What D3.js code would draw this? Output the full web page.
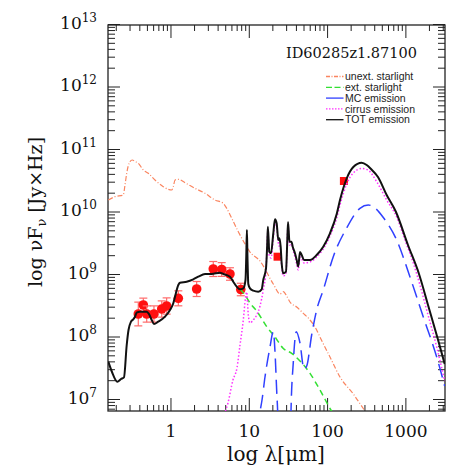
<!DOCTYPE html>
<html>
<head>
<meta charset="utf-8">
<script src="https://cdnjs.cloudflare.com/ajax/libs/d3/7.8.5/d3.min.js"></script>
<style>
  body { margin: 0; background: #fff; }
  svg { display: block; }
</style>
</head>
<body>
<svg id="chart" width="469" height="469"></svg>
<script>
// values are [log10 lambda (um), log10 nuFnu (Jy x Hz)]
const totEmission = [[-0.794,7.597],[-0.747,7.432],[-0.679,7.277],[-0.632,7.320],[-0.594,7.347],[-0.559,7.864],[-0.536,8.104],[-0.504,8.237],[-0.475,8.275],[-0.453,8.317],[-0.432,8.381],[-0.390,8.397],[-0.304,8.397],[-0.275,8.360],[-0.240,8.264],[-0.211,8.200],[-0.156,8.237],[-0.070,8.317],[-0.006,8.424],[0.036,8.531],[0.058,8.637],[0.100,8.824],[0.121,8.861],[0.207,8.877],[0.291,8.915],[0.355,8.957],[0.441,9.000],[0.526,9.000],[0.632,9.021],[0.674,9.000],[0.760,8.957],[0.802,8.877],[0.846,8.797],[0.888,8.755],[0.930,8.771],[0.958,8.904],[0.968,9.288],[0.976,9.704],[0.983,9.288],[0.994,8.840],[1.015,8.771],[1.058,8.733],[1.121,8.717],[1.165,8.755],[1.185,8.904],[1.220,9.091],[1.235,9.464],[1.244,9.757],[1.262,9.357],[1.284,9.331],[1.313,9.651],[1.335,9.875],[1.356,9.811],[1.377,9.544],[1.390,9.571],[1.407,9.437],[1.420,9.171],[1.441,9.011],[1.475,9.037],[1.490,9.464],[1.501,9.832],[1.520,9.517],[1.545,9.517],[1.561,9.437],[1.590,9.331],[1.612,9.224],[1.632,9.120],[1.654,9.352],[1.676,9.304],[1.705,9.224],[1.782,9.224],[1.867,9.304],[1.951,9.437],[2.037,9.651],[2.123,9.960],[2.165,10.184],[2.216,10.408],[2.250,10.528],[2.335,10.712],[2.442,10.781],[2.506,10.744],[2.561,10.680],[2.650,10.552],[2.761,10.264],[2.880,9.992],[3.033,9.464],[3.174,9.000],[3.289,8.504],[3.407,7.992],[3.502,7.560]];

const unextStarlight = [[-0.794,10.184],[-0.709,10.237],[-0.603,10.264],[-0.581,10.424],[-0.559,10.611],[-0.543,10.712],[-0.517,10.797],[-0.488,10.824],[-0.453,10.800],[-0.411,10.771],[-0.347,10.664],[-0.284,10.611],[-0.198,10.504],[-0.092,10.397],[-0.028,10.355],[0.015,10.344],[0.036,10.397],[0.058,10.504],[0.100,10.515],[0.185,10.461],[0.313,10.371],[0.441,10.291],[0.568,10.184],[0.674,10.131],[0.718,10.051],[0.782,9.891],[0.866,9.677],[0.952,9.480],[1.015,9.352],[1.143,9.208],[1.313,8.840],[1.399,8.680],[1.441,8.717],[1.484,8.648],[1.526,8.552],[1.612,8.472],[1.696,8.371],[1.782,8.264],[1.867,8.104],[1.909,7.992],[2.037,7.672],[2.165,7.352],[2.335,7.080],[2.484,6.808],[2.600,6.600]];

const extStarlight = [[0.888,8.755],[0.952,8.664],[1.015,8.536],[1.101,8.408],[1.229,8.157],[1.335,7.992],[1.441,7.808],[1.548,7.731],[1.654,7.608],[1.782,7.411],[1.909,7.144],[2.056,6.808],[2.165,6.600]];

const mcEmission = [[1.079,6.184],[1.143,6.792],[1.169,6.984],[1.207,7.352],[1.271,7.832],[1.313,8.077],[1.335,7.752],[1.356,7.144],[1.369,6.792],[1.379,6.344],[1.462,6.024],[1.533,6.344],[1.539,6.792],[1.568,7.576],[1.607,8.077],[1.654,7.896],[1.705,7.480],[1.740,7.528],[1.803,8.024],[1.867,8.424],[1.951,8.744],[2.079,9.277],[2.250,9.736],[2.420,10.051],[2.526,10.104],[2.612,10.056],[2.718,9.904],[2.889,9.544],[3.059,8.952],[3.229,8.312],[3.400,7.672],[3.502,7.208]];

const cirrusEmission = [[0.702,6.808],[0.734,6.936],[0.798,7.304],[0.849,7.496],[0.888,7.864],[0.930,8.264],[0.958,8.616],[0.973,8.712],[0.994,8.344],[1.015,8.216],[1.058,8.264],[1.101,8.344],[1.143,8.488],[1.185,8.744],[1.220,9.064],[1.244,9.672],[1.262,9.288],[1.284,9.256],[1.313,9.576],[1.335,9.816],[1.356,9.752],[1.377,9.496],[1.407,9.384],[1.420,9.128],[1.441,8.968],[1.475,9.000],[1.501,9.768],[1.520,9.464],[1.545,9.480],[1.565,9.384],[1.590,9.272],[1.612,9.160],[1.632,9.064],[1.654,9.272],[1.676,9.240],[1.705,9.176],[1.782,9.192],[1.867,9.272],[1.951,9.400],[2.037,9.608],[2.123,9.896],[2.165,10.104],[2.250,10.440],[2.335,10.616],[2.442,10.688],[2.522,10.664],[2.633,10.477],[2.761,10.184],[2.889,9.912],[2.995,9.544],[3.101,9.176],[3.186,8.824],[3.272,8.424],[3.400,7.832],[3.502,7.288]];

// photometry: lambda (um), log nuFnu, error (dex)
const photLam = [0.388, 0.450, 0.497, 0.615, 0.773, 0.893, 1.26, 2.16, 3.52, 4.51, 5.75, 7.9];
const photLogF = [8.360, 8.504, 8.360, 8.360, 8.440, 8.488, 8.611, 8.760, 9.080, 9.072, 9.000, 8.752];
const photErr = [0.19, 0.11, 0.13, 0.13, 0.13, 0.13, 0.12, 0.12, 0.12, 0.11, 0.10, 0.10];
const farIrLam = [23.3, 164];
const farIrLogF = [9.277, 10.488];

const lamTicks = [1, 10, 100, 1000];
const fluxExps = [7, 8, 9, 10, 11, 12, 13];
const legendNames = ["unext. starlight", "ext. starlight", "MC emission", "cirrus emission", "TOT emission"];

const svg = d3.select("#chart");
svg.append("rect").attr("width", 469).attr("height", 469).attr("fill", "#fff");

const L = 108, R = 445, T = 25, B = 411;
const x = d3.scaleLog().domain([10 ** -0.798, 10 ** 3.506]).range([L, R]);
const y = d3.scaleLog().domain([10 ** 6.808, 10 ** 12.984]).range([B, T]);

const serif = "'DejaVu Serif', serif";
const sans = "'Liberation Sans', Arial, sans-serif";

// minor tick values
const lamMinor = [];
for (let d = -1; d <= 3; d++) for (let k = 2; k <= 9; k++) {
  const v = k * 10 ** d;
  if (v > x.domain()[0] && v < x.domain()[1]) lamMinor.push(v);
}
const fluxMinor = [];
for (let d = 6; d <= 12; d++) for (let k = 2; k <= 9; k++) {
  const v = k * 10 ** d;
  if (v > y.domain()[0] && v < y.domain()[1]) fluxMinor.push(v);
}
const fluxMajor = fluxExps.map(e => 10 ** e);

function styleAxis(g) {
  g.select(".domain").remove();
  g.selectAll(".tick line").attr("stroke", "#222").attr("stroke-width", 1);
}

// bottom
svg.append("g").attr("transform", `translate(0,${B})`)
  .call(d3.axisBottom(x).tickValues(lamMinor).tickSizeInner(-6).tickSizeOuter(0).tickFormat(""))
  .call(styleAxis);
svg.append("g").attr("transform", `translate(0,${B})`)
  .call(d3.axisBottom(x).tickValues(lamTicks).tickSizeInner(-13).tickSizeOuter(0).tickPadding(14).tickFormat(d3.format("d")))
  .call(styleAxis)
  .call(g => g.selectAll("text").attr("font-family", serif).attr("font-size", 17).attr("fill", "#111"));
// top
svg.append("g").attr("transform", `translate(0,${T})`)
  .call(d3.axisTop(x).tickValues(lamMinor).tickSizeInner(-6).tickSizeOuter(0).tickFormat(""))
  .call(styleAxis);
svg.append("g").attr("transform", `translate(0,${T})`)
  .call(d3.axisTop(x).tickValues(lamTicks).tickSizeInner(-13).tickSizeOuter(0).tickFormat(""))
  .call(styleAxis);
// left
svg.append("g").attr("transform", `translate(${L},0)`)
  .call(d3.axisLeft(y).tickValues(fluxMinor).tickSizeInner(-7).tickSizeOuter(0).tickFormat(""))
  .call(styleAxis);
svg.append("g").attr("transform", `translate(${L},0)`)
  .call(d3.axisLeft(y).tickValues(fluxMajor).tickSizeInner(-12).tickSizeOuter(0).tickPadding(11).tickFormat(""))
  .call(styleAxis)
  .call(g => g.selectAll(".tick text").each(function(d) {
    const t = d3.select(this).attr("font-family", serif).attr("fill", "#111").attr("dy", "0.42em");
    t.append("tspan").attr("font-size", 17).text("10");
    t.append("tspan").attr("font-size", 12).attr("dy", -7).text(Math.round(Math.log10(d)));
  }));
// right
svg.append("g").attr("transform", `translate(${R},0)`)
  .call(d3.axisRight(y).tickValues(fluxMinor).tickSizeInner(-7).tickSizeOuter(0).tickFormat(""))
  .call(styleAxis);
svg.append("g").attr("transform", `translate(${R},0)`)
  .call(d3.axisRight(y).tickValues(fluxMajor).tickSizeInner(-12).tickSizeOuter(0).tickFormat(""))
  .call(styleAxis);

svg.append("rect").attr("x", L).attr("y", T).attr("width", R - L).attr("height", B - T)
  .attr("fill", "none").attr("stroke", "#222").attr("stroke-width", 1.3);

svg.append("clipPath").attr("id", "plotclip")
  .append("rect").attr("x", L).attr("y", T).attr("width", R - L).attr("height", B - T);
const plot = svg.append("g").attr("clip-path", "url(#plotclip)");

// photometry with error bars
const errCol = "#ff6a6a";
photLam.forEach((lam, i) => {
  const cx = x(lam), lo = y(10 ** (photLogF[i] - photErr[i])), hi = y(10 ** (photLogF[i] + photErr[i]));
  plot.append("line").attr("x1", cx).attr("x2", cx).attr("y1", lo).attr("y2", hi).attr("stroke", errCol).attr("stroke-width", 1.2);
  [lo, hi].forEach(yy => plot.append("line").attr("x1", cx - 4).attr("x2", cx + 4).attr("y1", yy).attr("y2", yy).attr("stroke", errCol).attr("stroke-width", 1.2));
  plot.append("circle").attr("cx", cx).attr("cy", y(10 ** photLogF[i])).attr("r", 4.8).attr("fill", "#ff1010");
});
farIrLam.forEach((lam, i) => {
  plot.append("rect").attr("x", x(lam) - 4).attr("y", y(10 ** farIrLogF[i]) - 4).attr("width", 8).attr("height", 8).attr("fill", "#ff1010");
});

const line = d3.line().x(d => x(10 ** d[0])).y(d => y(10 ** d[1])).curve(d3.curveMonotoneX);

const series = [
  { data: unextStarlight, color: "#fa8560", width: 1.2, dash: "5,2,1,2" },
  { data: extStarlight, color: "#33e033", width: 1.5, dash: "6,4" },
  { data: mcEmission, color: "#3040ff", width: 1.5, dash: "14,7" },
  { data: cirrusEmission, color: "#ff30ff", width: 1.5, dash: "1.5,2" },
  { data: totEmission, color: "#111", width: 2, dash: null }
];
series.forEach(s => {
  plot.append("path").datum(s.data).attr("d", line).attr("fill", "none")
    .attr("stroke", s.color).attr("stroke-width", s.width)
    .attr("stroke-dasharray", s.dash).attr("stroke-linejoin", "round");
});

// legend
const leg = svg.append("g");
legendNames.forEach((name, i) => {
  const yy = 76.5 + i * 10.8;
  const s = series[i];
  leg.append("line").attr("x1", 326).attr("x2", 343.5).attr("y1", yy).attr("y2", yy)
    .attr("stroke", s.color).attr("stroke-width", 1.3)
    .attr("stroke-dasharray", i === 0 ? "4,1.5,1,1.5" : i === 1 ? "6,2.5" : i === 3 ? "1.5,1.5" : null);
  leg.append("text").attr("x", 345).attr("y", yy + 3.6).attr("font-family", sans).attr("font-size", 10.5)
    .attr("fill", "#222").text(name);
});

// title
svg.append("text").attr("x", 417).attr("y", 58).attr("text-anchor", "end")
  .attr("font-family", serif).attr("font-size", 14.5).attr("fill", "#111").text("ID60285z1.87100");

// axis titles
svg.append("text").attr("x", 276).attr("y", 461).attr("text-anchor", "middle")
  .attr("font-family", serif).attr("font-size", 20).attr("fill", "#111")
  .text("log  λ[μm]");
const yt = svg.append("text").attr("transform", "translate(42,212) rotate(-90)").attr("text-anchor", "middle")
  .attr("font-family", serif).attr("font-size", 19).attr("fill", "#111");
yt.append("tspan").text("log  νF");
yt.append("tspan").attr("font-size", 13).attr("dy", 4).text("ν");
yt.append("tspan").attr("dy", -4).text("  [Jy×Hz]");
</script>
</body>
</html>
